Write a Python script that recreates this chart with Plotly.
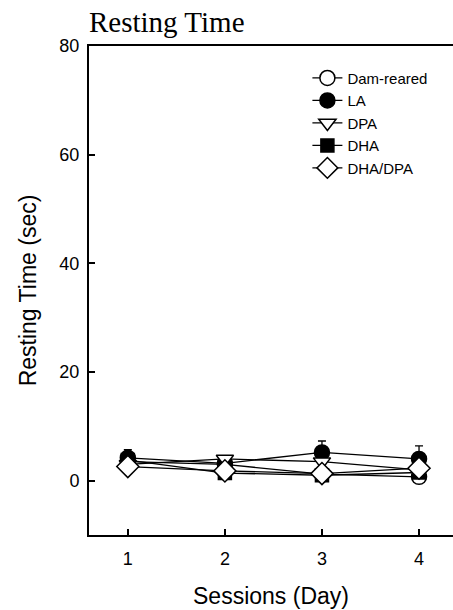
import plotly.graph_objects as go

sessions = [1, 2, 3, 4]
tick_labels = ["1", "2", "3", "4"]

dam_reared = [3.5, 3.0, 1.2, 0.7]
dam_reared_err = [0.8, 0.6, 0.5, 0.4]
la = [4.2, 3.2, 5.2, 4.0]
la_err = [1.5, 0.8, 2.1, 2.4]
dpa = [3.0, 4.0, 3.5, 2.0]
dpa_err = [0.8, 0.6, 0.8, 0.6]
dha = [3.8, 1.4, 1.0, 1.5]
dha_err = [1.2, 0.5, 0.4, 0.5]
dha_dpa = [2.6, 1.8, 1.3, 2.3]
dha_dpa_err = [0.6, 0.6, 0.4, 0.6]

series = [
    ("Dam-reared", dam_reared, dam_reared_err, "circle", "white"),
    ("LA", la, la_err, "circle", "black"),
    ("DPA", dpa, dpa_err, "triangle-down", "white"),
    ("DHA", dha, dha_err, "square", "black"),
    ("DHA/DPA", dha_dpa, dha_dpa_err, "diamond", "white"),
]

fig = go.Figure()
for name, vals, errs, sym, fill in series:
    size = 15 if sym != "square" else 13
    if sym == "diamond":
        size = 17
    fig.add_trace(go.Scatter(
        x=sessions, y=vals, name=name, mode="lines+markers",
        line=dict(color="black", width=1.3),
        marker=dict(symbol=sym, size=size, color=fill,
                    line=dict(color="black", width=1.5)),
        error_y=dict(type="data", array=errs, symmetric=False,
                     arrayminus=[0, 0, 0, 0],
                     color="black", thickness=1.3, width=4),
    ))

font_sans = "Arial, Liberation Sans, sans-serif"

fig.update_layout(
    width=453, height=610,
    margin=dict(l=89, r=0, t=46, b=75),
    paper_bgcolor="white", plot_bgcolor="white",
    font=dict(family=font_sans, color="black", size=18),
    title=dict(text="Resting Time", font=dict(family="Times New Roman, Liberation Serif, serif", size=29, color="black"),
               x=0, xref="paper", xanchor="left", y=1 - 22 / 610, yref="container", yanchor="middle"),
    showlegend=True,
    legend=dict(x=0.60, y=0.968, xanchor="left", yanchor="top",
                font=dict(family=font_sans, size=15, color="black"),
                bgcolor="rgba(0,0,0,0)", borderwidth=0, tracegroupgap=0),
    xaxis=dict(range=[0.6, 4.35], tickvals=sessions, ticktext=tick_labels,
               showline=True, linecolor="black", linewidth=2, mirror=True,
               ticks="inside", ticklen=6, tickwidth=2, tickcolor="black",
               showgrid=False, zeroline=False, ticklabelstandoff=6,
               tickfont=dict(size=18),
               title=dict(text="Sessions (Day)", font=dict(size=23), standoff=20)),
    yaxis=dict(range=[-10, 80], tickvals=[0, 20, 40, 60, 80],
               showline=True, linecolor="black", linewidth=2, mirror=False,
               ticks="inside", ticklen=6, tickwidth=2, tickcolor="black",
               showgrid=False, zeroline=False, ticklabelstandoff=4,
               tickfont=dict(size=18),
               title=dict(text="Resting Time (sec)", font=dict(size=23), standoff=16)),
)

fig.write_html("out.html")
